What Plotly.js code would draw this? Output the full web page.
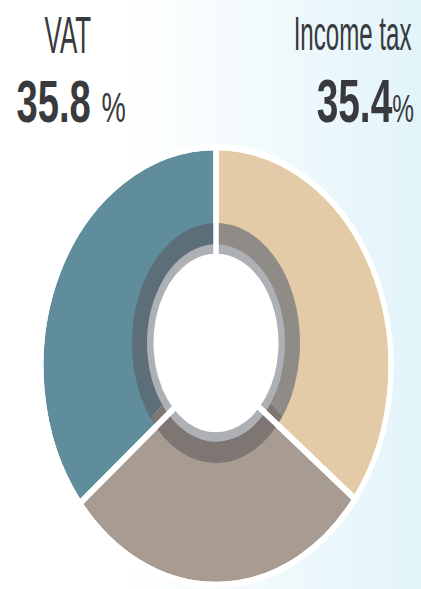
<!DOCTYPE html>
<html><head><meta charset="utf-8">
<script src="https://cdn.plot.ly/plotly-3.0.1.min.js"></script>
<style>
html,body{margin:0;padding:0;width:421px;height:589px;overflow:hidden;}
body{background:linear-gradient(90deg,#ffffff 0%,#ffffff 30%,#e2f4fa 100%);position:relative;}
.layer{position:absolute;left:0;top:0;transform-origin:0 0;}
</style></head><body>
<div id="pie" class="layer"></div>
<div id="inner" class="layer"></div>
<div id="dividers" class="layer"></div>
<div id="hole" class="layer"></div>
<div id="labels" class="layer"></div>
<div id="numbers" class="layer"></div>
<script>
// ---- data ----
const categories = ["Income tax", "Other", "VAT"];
const shares = [35.4, 28.8, 35.8];

// ---- styles ----
const outerColors = ["#e2cba6", "#a89b91", "#5f8d9c"];
const bandColors  = ["#8f8b87", "#7e7672", "#5c6e78"];
const ringColors  = ["#adb0b4", "#adb0b4", "#adb0b4"];
const holeColors  = ["#ffffff", "#ffffff", "#ffffff"];
const clearColors = ["rgba(0,0,0,0)", "rgba(0,0,0,0)", "rgba(0,0,0,0)"];
const textColor = "#383a3d";
const FONT = "Liberation Sans, Arial, sans-serif";

const FW = 421, FH = 589;
const cfg = {staticPlot: true, displayModeBar: false};
const CX = 216;

function pieLayer(id, LH, cyFinal, rings) {
  const sy = FH / LH, cy = cyFinal / sy;
  document.getElementById(id).style.transform = 'scaleY(' + sy + ')';
  const traces = rings.map(function (g) {
    return {
      type: 'pie', labels: categories, values: shares, sort: false,
      direction: 'clockwise', rotation: 0, hole: g.hole / g.r,
      textinfo: 'none', hoverinfo: 'skip', showlegend: false,
      marker: {colors: g.colors, line: {color: g.lc || '#ffffff', width: g.lw}},
      domain: {x: [(CX - g.r) / FW, (CX + g.r) / FW], y: [(LH - cy - g.r) / LH, (LH - cy + g.r) / LH]}
    };
  });
  Plotly.newPlot(id, traces, {
    width: FW, height: LH, margin: {l: 0, r: 0, t: 0, b: 0},
    paper_bgcolor: 'rgba(0,0,0,0)', plot_bgcolor: 'rgba(0,0,0,0)', showlegend: false
  }, cfg);
}

// outer ring
pieLayer('pie', 471, 366, [{r: 175, hole: 72, colors: outerColors, lw: 5}]);
// inner shaded band and light ring
pieLayer('inner', 412, 343, [
  {r: 84, hole: 0, colors: bandColors, lw: 0},
  {r: 69, hole: 0, colors: ringColors, lw: 0}
]);
// white slice dividers
pieLayer('dividers', 471, 366, [{r: 175, hole: 0, colors: clearColors, lw: 5}]);
// white centre (white outline closes the seams between its slices)
pieLayer('hole', 412, 343, [{r: 61.5, hole: 0, colors: holeColors, lw: 2}]);

// ---- text layers (condensed look via non-uniform scaling) ----
function textLayer(id, LW, LH, anns) {
  const sx = FW / LW, sy = FH / LH;
  document.getElementById(id).style.transform = 'scale(' + sx + ',' + sy + ')';
  Plotly.newPlot(id, [], {
    width: LW, height: LH, margin: {l: 0, r: 0, t: 0, b: 0},
    paper_bgcolor: 'rgba(0,0,0,0)', plot_bgcolor: 'rgba(0,0,0,0)',
    xaxis: {range: [0, FW], visible: false, fixedrange: true},
    yaxis: {range: [FH, 0], visible: false, fixedrange: true},
    annotations: anns
  }, cfg);
}

textLayer('labels', 585, 403, [
  {x: 68, y: 35, xref: 'x', yref: 'y', text: categories[2], showarrow: false,
   xanchor: 'center', yanchor: 'middle', font: {family: FONT, size: 36, color: textColor}},
  {x: 413, y: 32.5, xref: 'x', yref: 'y', text: categories[0], showarrow: false,
   xanchor: 'right', yanchor: 'middle', font: {family: FONT, size: 33.5, color: textColor}}
]);

textLayer('numbers', 585, 521, [
  {x: 15, y: 101, xref: 'x', yref: 'y',
   text: '<b>' + shares[2].toFixed(1) + '</b> <span style="font-size:38px">%</span>',
   showarrow: false, xanchor: 'left', yanchor: 'middle', font: {family: FONT, size: 53, color: textColor}},
  {x: 415, y: 101, xref: 'x', yref: 'y',
   text: '<b>' + shares[0].toFixed(1) + '</b><span style="font-size:34px">%</span>',
   showarrow: false, xanchor: 'right', yanchor: 'middle', font: {family: FONT, size: 54, color: textColor}}
]);
</script>
</body></html>
